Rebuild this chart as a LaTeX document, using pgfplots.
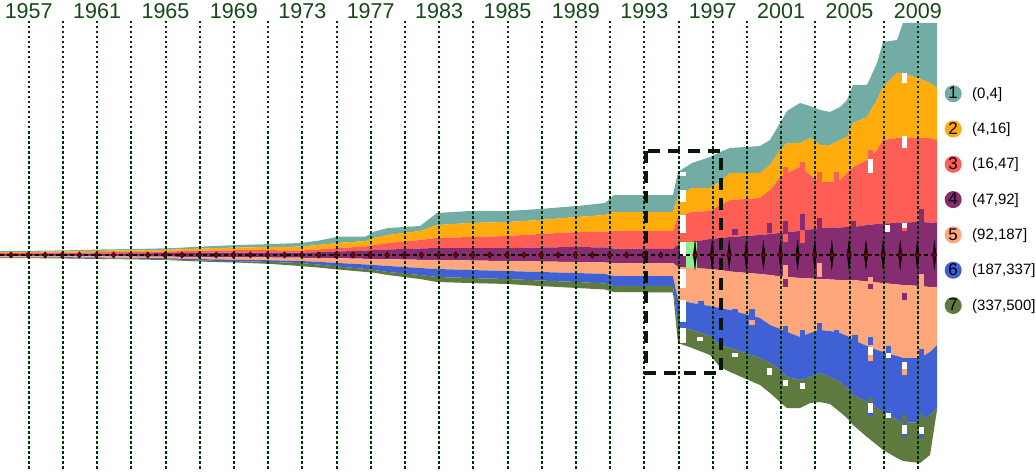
\documentclass[border=0pt]{standalone}
\usepackage{pgfplots}
\pgfplotsset{compat=1.18}
\usepgfplotslibrary{fillbetween}
\usepackage{pgfplotstable}
\usepackage{fontspec}
\setmainfont{Liberation Sans}

\definecolor{cA}{RGB}{115,172,165}
\definecolor{cB}{RGB}{255,172,12}
\definecolor{cC}{RGB}{255,94,87}
\definecolor{cD}{RGB}{134,44,112}
\definecolor{cE}{RGB}{255,166,122}
\definecolor{cF}{RGB}{64,96,214}
\definecolor{cG}{RGB}{94,122,62}
\definecolor{lgreen}{RGB}{144,238,144}
\definecolor{txtgreen}{RGB}{20,72,20}
\definecolor{dotgreen}{RGB}{0,50,0}
\definecolor{mkred}{RGB}{130,0,0}
\definecolor{boxc}{RGB}{8,24,8}

\pgfplotstableread{
x t a b c d e f g
0 251 252 253 254 256 257 257.5 258
34 250.8 251.8 252.8 253.9 256.1 257.1 257.6 258.2
68 250.3 251.5 252.6 253.8 256.2 257.2 257.8 258.5
102 249.5 250.8 252.2 253.6 256.4 257.5 258.2 259
136 249 250.4 251.9 253.4 256.5 257.8 258.7 259.4
170 248.2 249.7 251.4 253.1 256.7 258.3 259.4 260.2
204 246.5 248.4 250.6 252.6 257 259.2 260.6 261.7
238 245 247.5 250.2 252.5 257.2 259.7 261.2 262.6
272 244 247 250.2 252.6 257.5 260.3 262 264
300 243 246.7 250.5 252.7 257.7 261 263 266
318 240.7 245 249.5 252.2 258 261.8 264.5 267.5
338 236.7 243 248 251.5 258.3 263 266.5 269.5
366 236.5 241 246.5 250.6 258.8 264.5 269 272
374 231.7 238 245 250 259 265 270 272.7
388 228 235 243 249.5 259.3 266 272 275
420 226 231 240 248.5 259.8 268 275 279
437 213 225 238 248 260 269 277 282
470 211 223 237 248 260.5 270 278 283
507 211 222 236 248 261 271 279 284
540 209 220 234 247.5 261.5 272 280.5 286
577 206 217 232 247 262 273 282 288
605 203 215 231.5 247.5 262.5 274 283.5 289.5
614 195 212 231 248.5 263 276 286 292
673 195 212 231 249 263 276 286 292.5
678 172 196 217 245 267 300 327 343
692 163 188 211.7 242 268 303 330 348
710 157 188 211 239 269 306 336 355
720 152 182 205 238 270 308 345 367
730 148 173 200 237 271.5 310 348 372
760 146 173 198 235 274 318 358 385
770 140 165 190 234 275 325 363 393
780 123 150 178 233 276.5 329 370 402
787 111 143 173 232 277 332 377 408
800 103 143 167 231 278 337 380 408
810 106 138 175 229.5 278.5 333 377 403
820 110 145 182 228 279 330 373 402
830 112 145 182 228 279.5 331 377 404
840 107 140 180 227.5 280 333 382 412
847 100 137 173 227 280 336 388 418
853 85 123 167 227 280 340 395 425
867 85 117 160 225 281.5 346 402 437
877 63 100 150 224 282.5 350 408 445
883 42 87 140 223.5 283 352 412 450
897 40 73 138 223 284.5 356 420 458
903 23 73 138 222.5 285 358 423 461
920 23 79 138 222 286 358 422 463
930 23 83 138 222.5 287 352 415 455
937 23 88 140 223 287 345 408 410
}\stream

\pgfplotsset{
  glitch/.style={draw=none, no marks, forget plot,
    error bars/.cd, y dir=both, y explicit, error mark=none,
    error bar style={line width=5.5pt, draw=#1, line cap=butt, solid}},
  wideglitch/.style={draw=none, no marks, forget plot,
    error bars/.cd, y dir=both, y explicit, error mark=none,
    error bar style={line width=11pt, draw=#1, line cap=butt, solid}},
}
\newcommand{\lgnum}{\fontsize{17}{17}\selectfont}
\newcommand{\lgimg}[2]{\addlegendimage{legend image code/.code={\path[draw=none] (0pt,0pt) -- (27.5pt,0pt);\node[circle,draw=none,fill=#1,inner sep=0pt,minimum size=17pt,font=\lgnum,anchor=center,text=black] at (8.5pt,0pt) {#2};}}}

\begin{document}
\begin{tikzpicture}
\begin{axis}[
  name=ax, set layers,
  scale only axis, width=1036pt, height=475pt,
  xmin=0, xmax=1036, ymin=0, ymax=475, y dir=reverse,
  axis line style={draw=none}, tick style={draw=none},
  ytick=\empty,
  xtick={28.7,97.1,165.5,233.9,302.3,370.7,439.1,507.5,575.9,644.3,712.7,781.1,849.5,917.9},
  xticklabels={1957,1961,1965,1969,1973,1977,1983,1985,1989,1993,1997,2001,2005,2009},
  xticklabel pos=upper,
  xticklabel style={anchor=center, yshift=-11.3pt, text=txtgreen, font=\fontsize{21.5}{21.5}\selectfont},
  legend style={at={(axis cs:944.5,85)}, anchor=north west, draw=none, fill=none,
    font=\fontsize{15}{15}\selectfont, row sep=18.3pt, column sep=0pt, inner sep=0pt, nodes={inner sep=0pt}},
  legend cell align=left,
]
% vertical dotted guides (behind the streams)
\pgfplotsinvokeforeach{0,...,26}{
  \draw[on layer=axis background, dotgreen, line width=2pt, dash pattern=on 2.5pt off 2.5pt]
    (axis cs:{28.7+34.2*#1},21) -- (axis cs:{28.7+34.2*#1},470);
}
% boundaries
\addplot[name path=p0, draw=none, forget plot] table[x=x,y=t]{\stream};
\addplot[name path=p1, draw=none, forget plot] table[x=x,y=a]{\stream};
\addplot[name path=p2, draw=none, forget plot] table[x=x,y=b]{\stream};
\addplot[name path=p3, draw=none, forget plot] table[x=x,y=c]{\stream};
\addplot[name path=p4, draw=none, forget plot] table[x=x,y=d]{\stream};
\addplot[name path=p5, draw=none, forget plot] table[x=x,y=e]{\stream};
\addplot[name path=p6, draw=none, forget plot] table[x=x,y=f]{\stream};
\addplot[name path=p7, draw=none, forget plot] table[x=x,y=g]{\stream};
\addplot[fill=cA, draw=none, forget plot] fill between[of=p0 and p1];
\addplot[fill=cB, draw=none, forget plot] fill between[of=p1 and p2];
\addplot[fill=cC, draw=none, forget plot] fill between[of=p2 and p3];
\addplot[fill=cD, draw=none, forget plot] fill between[of=p3 and p4];
\addplot[fill=cE, draw=none, forget plot] fill between[of=p4 and p5];
\addplot[fill=cF, draw=none, forget plot] fill between[of=p5 and p6];
\addplot[fill=cG, draw=none, forget plot] fill between[of=p6 and p7];

% small glitch bars
\addplot[glitch=cC] coordinates {(785.5,177.5) +- (0,10.5) (802.5,172.5) +- (0,10.5) (819.5,179.5) +- (0,7.5) (836.5,178.5) +- (0,6.5) (870.5,154) +- (0,4)};
\addplot[glitch=cD] coordinates {(769.5,228) +- (0,5) (785.5,227) +- (0,6) (802.5,222) +- (0,8) (819.5,224) +- (0,6) (853.5,226) +- (0,5) (921.5,215.5) +- (0,6.5) (735,232) +- (0,3) (785.5,283) +- (0,4) (904.5,296.5) +- (0,3.5) (870.5,286) +- (0,3)};
\addplot[glitch=cC] coordinates {(802.5,237) +- (0,6) (785.5,238) +- (0,4) (904.5,228) +- (0,3)};
\addplot[glitch=cF] coordinates {(701,303) +- (0,2) (735,313) +- (0,4) (752,314.5) +- (0,5.5) (785.5,330.5) +- (0,4.5) (802.5,333) +- (0,3.5) (819.5,327.5) +- (0,4.5) (836.5,333) +- (0,3.5) (855,338.5) +- (0,3.5) (870.5,341) +- (0,4) (888.5,349) +- (0,3.5) (921.5,353.5) +- (0,4.5) (870.5,414) +- (0,2) (904.5,435) +- (0,2) (921.5,436) +- (0,2)};
\addplot[glitch=cE] coordinates {(785.5,271) +- (0,6) (819.5,270) +- (0,7) (921.5,280.5) +- (0,6.5) (870.5,280) +- (0,3.5) (752,322) +- (0,2.5) (870.5,358) +- (0,3) (904.5,372) +- (0,3)};
\addplot[glitch=cG] coordinates {(904.5,418) +- (0,3) (921.5,418) +- (0,4) (870.5,400) +- (0,2)};
\addplot[glitch=white] coordinates {(870.5,67) +- (0,5) (904.5,78) +- (0,5) (904.5,142) +- (0,6) (870.5,166) +- (0,7) (887.5,228) +- (0,3.5) (904.5,225.5) +- (0,2.5) (769.5,371) +- (0,3.5) (785.5,382.5) +- (0,3) (802.5,385.5) +- (0,3) (870.5,351) +- (0,4) (870.5,408) +- (0,5) (888.5,415.5) +- (0,2.5) (904.5,429) +- (0,4.5) (921.5,430) +- (0,3.5) (904.5,365.5) +- (0,3.5) (888.5,355.5) +- (0,2.5) (735,355) +- (0,2) (700,338.5) +- (0,2)};
% light green block and white strip
\addplot[wideglitch=lgreen] coordinates {(691.5,255) +- (0,13)};
\addplot[glitch=white] coordinates {(683,174) +- (0,2) (683,196) +- (0,6) (683,224) +- (0,9) (683,249) +- (0,7) (683,278) +- (0,9.5) (683,311) +- (0,11) (683,335.5) +- (0,7.5)};

% centre line and markers
\addplot[black, line width=1.3pt, dash pattern=on 4pt off 3pt, forget plot] coordinates {(0,255) (937,255)};
\addplot[only marks, forget plot, mark=diamond*, mark size=14pt, mark options={xscale=0.16, fill=black, draw=black}] coordinates {(695,255) (712.1,255) (729.2,255) (746.3,255) (763.4,255) (780.5,255) (797.6,255) (814.7,255) (831.8,255) (848.9,255) (866,255) (883.1,255) (900.2,255) (917.3,255) (934.4,255)};
\addplot[only marks, forget plot, mark=diamond*, mark size=3.2pt, mark options={fill=mkred, draw=black, line width=0.4pt}] coordinates {(11,255) (28.1,255) (45.2,255) (62.3,255) (79.4,255) (96.5,255) (113.6,255) (130.7,255) (147.8,255) (164.9,255) (182,255) (199.1,255) (216.2,255) (233.3,255) (250.4,255) (267.5,255) (284.6,255) (301.7,255) (318.8,255) (335.9,255) (353,255) (370.1,255) (387.2,255) (404.3,255) (421.4,255) (438.5,255) (455.6,255) (472.7,255) (489.8,255) (506.9,255) (524,255) (541.1,255) (558.2,255) (575.3,255) (592.4,255) (609.5,255) (626.6,255) (643.7,255) (660.8,255) (695,255) (712.1,255) (729.2,255) (746.3,255) (763.4,255) (780.5,255) (797.6,255) (814.7,255) (831.8,255) (848.9,255) (866,255) (883.1,255) (900.2,255) (917.3,255) (934.4,255)};

% dashed highlight box
\draw[boxc, line width=3.3pt, dash pattern=on 12pt off 8pt] (axis cs:646,151) rectangle (axis cs:721,373);

% legend
\lgimg{cA}{1}\addlegendentry{(0,4]}
\lgimg{cB}{2}\addlegendentry{(4,16]}
\lgimg{cC}{3}\addlegendentry{(16,47]}
\lgimg{cD}{4}\addlegendentry{(47,92]}
\lgimg{cE}{5}\addlegendentry{(92,187]}
\lgimg{cF}{6}\addlegendentry{(187,337]}
\lgimg{cG}{7}\addlegendentry{(337,500]}
\end{axis}
\pgfresetboundingbox
\path[use as bounding box] (ax.south west) rectangle (ax.north east);
\end{tikzpicture}
\end{document}
